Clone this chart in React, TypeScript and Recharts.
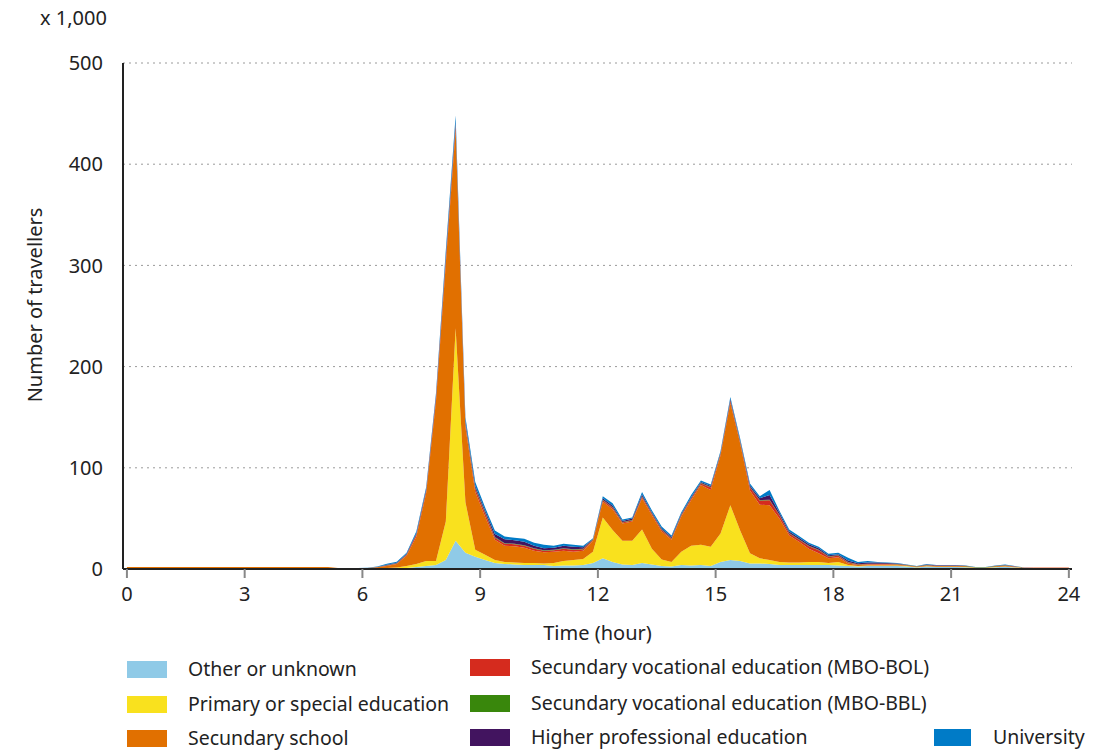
import React from "react";
import {
  AreaChart,
  Area,
  XAxis,
  YAxis,
  CartesianGrid,
} from "recharts";

// quarter-hour bins (bin centres), plus both ends of the day
const hours = [0, ...Array.from({ length: 96 }, (_, i) => i * 0.25 + 0.125), 24];

// values x 1,000 travellers; rows: start, then 4 per hour, then end
const other = [
  0.3,
  0.3, 0.3, 0.3, 0.3, 0.3, 0.3, 0.3, 0.3, 0.3, 0.3, 0.3, 0.3, 0.3, 0.3, 0.3, 0.3, 0.3, 0.3, 0.3, 0.3,
  0.3, 0.2, 0.2, 0.2,
  0.2, 0.3, 0.5, 0.5,
  1, 2, 3, 4,
  9, 28, 16, 12,
  9, 6, 5, 4.5,
  4, 4, 4, 3,
  3.5, 3.5, 4, 6,
  10.5, 7, 4.5, 4,
  6, 4.5, 3, 2.5,
  4, 3.5, 4, 3,
  7, 9, 8, 5.5,
  5.5, 5, 4, 4,
  4, 4, 4, 4,
  3.5, 3, 2.5, 3,
  3, 3, 3, 2.5,
  1.5, 2.5, 2, 2,
  2, 1.8, 1, 1,
  1.8, 2.2, 1.5, 0.7,
  0.6, 0.6, 0.6, 0.6,
  0.6,
];

const primary = [
  0.6,
  0.6, 0.6, 0.6, 0.6, 0.6, 0.6, 0.6, 0.6, 0.6, 0.6, 0.6, 0.6, 0.6, 0.6, 0.6, 0.6, 0.6, 0.6, 0.6, 0.6,
  0.6, 0.3, 0.3, 0.3,
  0.3, 0.4, 0.5, 1,
  2, 3, 5, 4,
  38, 210, 50, 7,
  5, 3, 2, 2,
  2, 2, 1.5, 3,
  4.5, 5.5, 6, 11,
  40.5, 31.5, 23.5, 24,
  33, 15.5, 6.5, 4.5,
  13, 19.5, 20, 19,
  28, 54, 30, 10,
  5, 4, 3, 2.5,
  2.5, 3, 3, 2,
  3.5, 1, 0.5, 0.5,
  0.5, 0.5, 0.5, 0.4,
  0.3, 0.3, 0.3, 0.3,
  0.3, 0.3, 0.2, 0.2,
  0.3, 0.3, 0.3, 0.2,
  0.2, 0.2, 0.2, 0.2,
  0.2,
];

const school = [
  1,
  1, 1, 1, 1, 1, 1, 1, 1, 1, 1, 1, 1, 1, 1, 1, 1, 1, 1, 1, 1,
  1, 0.5, 0.5, 0.5,
  0.5, 1, 2, 3.5,
  10, 27, 67, 158,
  255, 196, 74, 57,
  38, 20, 16, 16,
  15, 12, 11, 11,
  10, 8, 8, 11,
  15.5, 20.5, 17, 19,
  31, 33, 27.5, 22,
  35, 45, 59, 56,
  77.5, 101, 86, 62,
  53, 54, 43, 26.5,
  20.5, 13, 8.5, 4.5,
  4.5, 1.5, 1, 1,
  1, 1, 0.8, 0.6,
  0.5, 0.7, 0.6, 0.6,
  0.6, 0.5, 0.3, 0.3,
  0.5, 0.7, 0.4, 0.3,
  0.5, 0.5, 0.5, 0.5,
  0.5,
];

const mboBol = [
  0.1,
  0.1, 0.1, 0.1, 0.1, 0.1, 0.1, 0.1, 0.1, 0.1, 0.1, 0.1, 0.1, 0.1, 0.1, 0.1, 0.1, 0.1, 0.1, 0.1, 0.1,
  0.1, 0.1, 0.1, 0.1,
  0.1, 0.2, 0.5, 0.5,
  1, 2, 2, 3,
  4, 4, 3, 3,
  3, 2, 2, 2,
  2, 2, 1.5, 1.5,
  2, 2, 1.5, 1,
  1.5, 1.5, 1, 1,
  1.5, 1.5, 1.5, 1,
  1, 1.5, 1.5, 2.5,
  1.5, 2, 1.5, 3,
  4, 5, 3, 2,
  2, 2.5, 3, 1.5,
  1.5, 1, 0.5, 0.5,
  0.5, 0.5, 0.4, 0.3,
  0.2, 0.3, 0.3, 0.3,
  0.3, 0.2, 0.1, 0.1,
  0.2, 0.3, 0.2, 0.1,
  0.1, 0.1, 0.1, 0.1,
  0.1,
];

const mboBbl = [
  0,
  0, 0, 0, 0, 0, 0, 0, 0, 0, 0, 0, 0, 0, 0, 0, 0, 0, 0, 0, 0,
  0, 0, 0, 0,
  0, 0, 0.1, 0.1,
  0.3, 0.3, 0.5, 0.5,
  1, 1, 1, 1,
  1, 0.5, 0.5, 0.5,
  0.5, 0.5, 0.5, 0.5,
  0.5, 0.5, 0.5, 0.3,
  0.5, 0.5, 0.5, 0.5,
  0.5, 0.5, 0.5, 0.5,
  0.5, 0.5, 0.5, 0.5,
  0.5, 0.5, 0.5, 0.5,
  0.5, 0.5, 0.5, 0.5,
  0.5, 0.5, 0.5, 0.5,
  0.5, 0.5, 0.3, 0.3,
  0.3, 0.2, 0.2, 0.1,
  0.1, 0.1, 0.1, 0.1,
  0.1, 0.1, 0.1, 0.1,
  0.1, 0.1, 0.1, 0,
  0, 0, 0, 0,
  0,
];

const hbo = [
  0,
  0, 0, 0, 0, 0, 0, 0, 0, 0, 0, 0, 0, 0, 0, 0, 0, 0, 0, 0, 0,
  0, 0, 0, 0,
  0, 0.2, 0.5, 0.5,
  0.7, 1, 1.5, 2,
  3, 3, 2, 2,
  2, 3, 4, 3.5,
  3.5, 2.5, 2, 2,
  2.5, 2.5, 1.5, 0.3,
  1.5, 1.5, 1, 1.5,
  1.5, 1, 1, 1,
  1, 1, 1, 1,
  0.5, 1.5, 1, 1.5,
  2, 4.5, 2, 1.5,
  1.5, 1.5, 1.5, 1,
  1, 1.5, 1, 1,
  1, 0.8, 0.6, 0.3,
  0.2, 0.6, 0.4, 0.4,
  0.4, 0.3, 0.1, 0.1,
  0.3, 0.4, 0.2, 0.1,
  0, 0, 0, 0,
  0,
];

const university = [
  0,
  0, 0, 0, 0, 0, 0, 0, 0, 0, 0, 0, 0, 0, 0, 0, 0, 0, 0, 0, 0,
  0, 0, 0, 0,
  0.1, 0.4, 1, 1,
  1, 2, 2, 2.5,
  5, 6, 4, 4,
  3, 3.5, 2.5, 2.5,
  3, 3, 3.5, 2,
  2, 2, 1.5, 0.7,
  2, 2.5, 1.5, 1,
  2.5, 2, 2, 1.5,
  1.5, 2, 1.5, 1.5,
  1.5, 2, 2, 2,
  2, 5, 2, 2,
  1.5, 1.5, 1.5, 1.5,
  1.5, 2.5, 1.2, 1.7,
  0.7, 0.5, 0.5, 0.3,
  0.2, 0.5, 0.3, 0.3,
  0.3, 0.3, 0.2, 0.2,
  0.3, 0.5, 0.3, 0.1,
  0.1, 0.1, 0.1, 0.1,
  0.1,
];

const xTicks = [0, 3, 6, 9, 12, 15, 18, 21, 24];
const yTicks = [0, 100, 200, 300, 400, 500];

const series = [
  { key: "other", name: "Other or unknown", color: "#8fcae7", values: other },
  { key: "primary", name: "Primary or special education", color: "#f9e11e", values: primary },
  { key: "school", name: "Secundary school", color: "#e17000", values: school },
  { key: "mboBol", name: "Secundary vocational education (MBO-BOL)", color: "#d52b1e", values: mboBol },
  { key: "mboBbl", name: "Secundary vocational education (MBO-BBL)", color: "#39870c", values: mboBbl },
  { key: "hbo", name: "Higher professional education", color: "#42145f", values: hbo },
  { key: "university", name: "University", color: "#007bc7", values: university },
];

const data = hours.map((hour, i) => {
  const row: Record<string, number> = { hour };
  series.forEach((s) => {
    row[s.key] = s.values[i];
  });
  return row;
});

// legend slots: [series index, swatch left, text left, centre y]
const legendSlots: [number, number, number, number][] = [
  [0, 119, 180, 661],
  [1, 119, 180, 696],
  [2, 119, 180, 730],
  [3, 462, 523, 659],
  [4, 462, 523, 695],
  [5, 462, 523, 729],
  [6, 926, 985, 729],
];

const font = '"Noto Sans", sans-serif';
const textColor = "#222";

export default function App() {
  return (
    <div style={{ position: "relative", width: 1085, height: 743, fontFamily: font, color: textColor }}>
      <div style={{ position: "absolute", left: 32, top: -3, fontSize: 20, lineHeight: "26px" }}>x 1,000</div>
      <div
        style={{
          position: "absolute",
          left: 26,
          top: 297,
          fontSize: 20,
          whiteSpace: "nowrap",
          transform: "translate(-50%, -50%) rotate(-90deg)",
        }}
      >
        Number of travellers
      </div>
      <AreaChart
        width={1085}
        height={735}
        data={data}
        margin={{ top: 55, right: 21, bottom: 103, left: 55 }}
        style={{ fontFamily: font }}
      >
        <CartesianGrid vertical={false} strokeDasharray="2 4" stroke="#9a9a9a" />
        <XAxis
          dataKey="hour"
          type="number"
          domain={[-0.1, 24.08]}
          allowDataOverflow
          ticks={xTicks}
          interval={0}
          height={71}
          tickSize={9}
          tickMargin={9}
          tickLine={{ stroke: "#888", strokeWidth: 2 }}
          axisLine={{ stroke: "#222", strokeWidth: 2 }}
          tick={{ fill: textColor, fontSize: 20 }}
          label={{ value: "Time (hour)", position: "insideBottom", offset: 0, fill: textColor, fontSize: 20 }}
        />
        <YAxis
          domain={[0, 500]}
          ticks={yTicks}
          width={60}
          tickSize={0}
          tickMargin={20}
          tickLine={false}
          axisLine={{ stroke: "#222", strokeWidth: 2 }}
          tick={{ fill: textColor, fontSize: 20 }}
        />
        {series.map((s) => (
          <Area
            key={s.key}
            type="linear"
            dataKey={s.key}
            name={s.name}
            stackId="1"
            stroke="none"
            fill={s.color}
            fillOpacity={1}
            isAnimationActive={false}
          />
        ))}
      </AreaChart>
      {legendSlots.map(([idx, sx, tx, cy]) => {
        const s = series[idx];
        return (
          <React.Fragment key={s.key}>
            <div
              style={{
                position: "absolute",
                left: sx,
                top: cy - 8,
                width: idx === 6 ? 37 : 40,
                height: 17,
                background: s.color,
              }}
            />
            <div
              style={{
                position: "absolute",
                left: tx,
                top: cy - 13,
                fontSize: 19.5,
                lineHeight: "26px",
                whiteSpace: "nowrap",
              }}
            >
              {s.name}
            </div>
          </React.Fragment>
        );
      })}
    </div>
  );
}
